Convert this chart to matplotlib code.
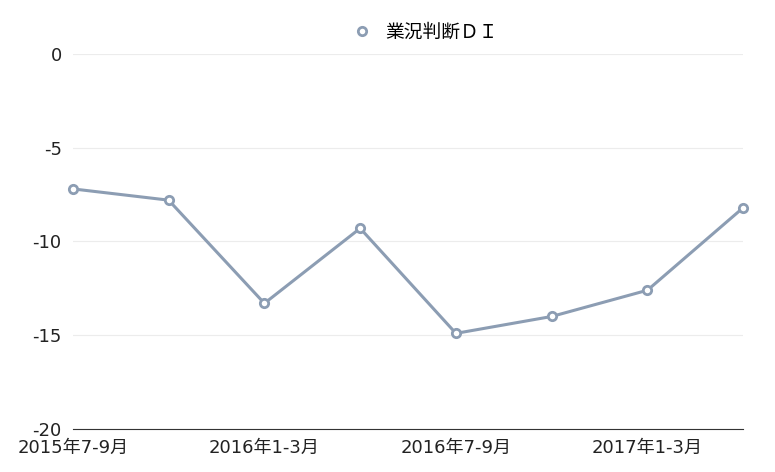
import matplotlib.pyplot as plt
import numpy as np

plt.rcParams['font.family'] = ['DejaVu Sans', 'Noto Sans CJK JP']

# 四半期と業況判断DI
quarters = ['2015年7-9月', '2015年10-12月', '2016年1-3月', '2016年4-6月',
            '2016年7-9月', '2016年10-12月', '2017年1-3月', '2017年4-6月']
di = [-7.2, -7.8, -13.3, -9.3, -14.9, -14.0, -12.6, -8.2]
yticks = [0, -5, -10, -15, -20]

color = '#8c9db3'

fig = plt.figure(figsize=(7.75, 4.72), dpi=100)
ax = fig.add_axes([0.094, 0.091, 0.865, 0.795])

x = np.arange(len(quarters))
ax.plot(x, di, '-o', color=color, lw=2.2, ms=6, mfc='white', mec=color, mew=2,
        label='業況判断ＤＩ', clip_on=False, zorder=3)

ax.set_xlim(0, len(quarters) - 1)
ax.set_ylim(-20, 0)
ax.set_yticks(yticks)
ax.set_yticklabels([str(v) for v in yticks])
ax.set_xticks(x[::2])
ax.set_xticklabels(quarters[::2])

ax.grid(axis='y', color='#ececec', lw=0.8)
for s in ['top', 'right', 'left']:
    ax.spines[s].set_visible(False)
ax.spines['bottom'].set_color('#333333')
ax.tick_params(axis='both', length=0, labelsize=13, colors='#222222')
ax.tick_params(axis='y', pad=8)
ax.tick_params(axis='x', pad=7)

ax.legend(loc='lower center', bbox_to_anchor=(0.527, 0.985), frameon=False,
          prop={'family': ['Noto Sans CJK JP'], 'size': 13.5},
          handlelength=0.8, handletextpad=0.8, numpoints=1)
leg = ax.get_legend()
for h in leg.legend_handles:
    h.set_linestyle('none')

plt.savefig('out.png', dpi=100)
